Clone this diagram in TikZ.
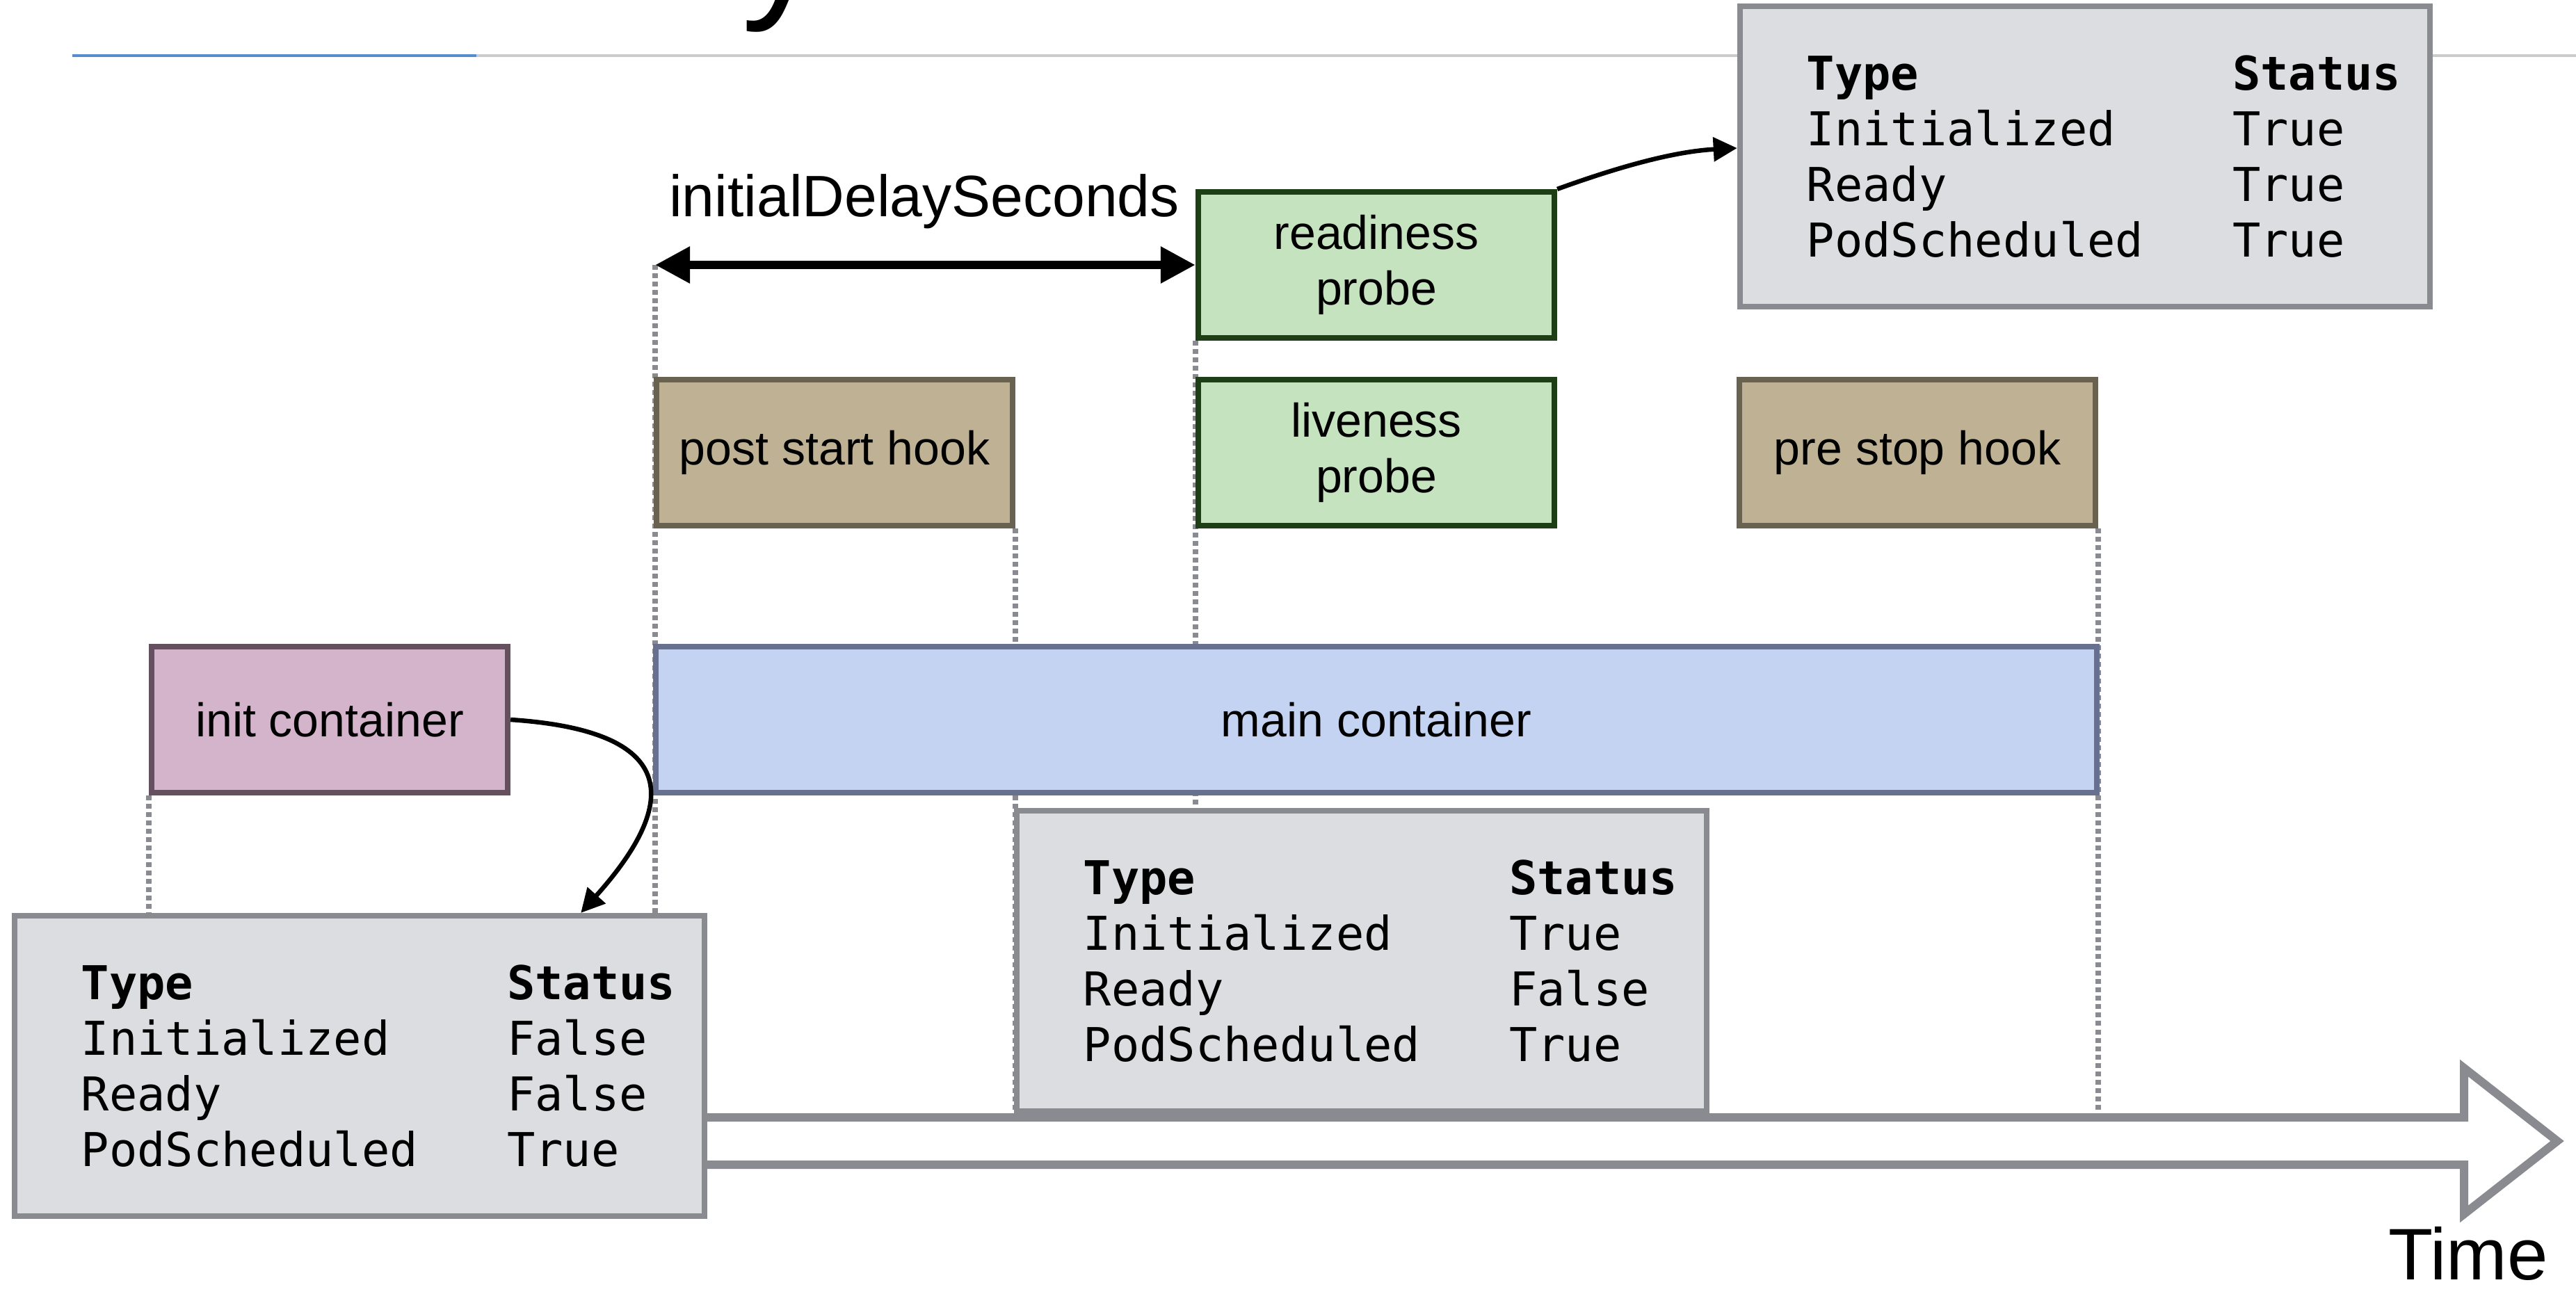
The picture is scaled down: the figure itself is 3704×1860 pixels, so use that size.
\documentclass[tikz,border=0pt]{standalone}
\usepackage{fontspec}
\setmainfont{Liberation Sans}
\newfontfamily\monofont{DejaVu Sans Mono}
\usetikzlibrary{arrows.meta, positioning, backgrounds}

\definecolor{initfill}{RGB}{212,180,203}
\definecolor{initedge}{RGB}{100,80,94}
\definecolor{mainfill}{RGB}{197,211,243}
\definecolor{mainedge}{RGB}{104,112,144}
\definecolor{hookfill}{RGB}{191,177,147}
\definecolor{hookedge}{RGB}{106,98,80}
\definecolor{probefill}{RGB}{198,227,192}
\definecolor{probeedge}{RGB}{30,63,22}
\definecolor{tablefill}{RGB}{220,221,224}
\definecolor{tableedge}{RGB}{138,139,144}
\definecolor{rulegray}{RGB}{200,204,204}
\definecolor{ruleblue}{RGB}{85,140,207}

\newcommand{\statrow}[2]{\makebox[61.2mm][l]{#1}#2}

\begin{document}
\begin{tikzpicture}[x=0.01cm, y=-0.01cm,
    every node/.style={font=\fontsize{6.8mm}{8mm}\selectfont},
    box/.style={rectangle, draw, line width=0.8mm, minimum width=51.2mm, minimum height=21mm, inner sep=0pt, align=center},
    condtable/.style={rectangle, draw=tableedge, fill=tablefill, line width=0.8mm, minimum width=99.2mm, minimum height=43.2mm, inner sep=0pt, text width=80mm, align=left, font=\monofont\fontsize{6.7mm}{8mm}\selectfont},
    guide/.style={draw=tableedge, line width=0.75mm, dash pattern=on 0.7mm off 0.5mm},
    curved/.style={draw, line width=0.65mm, -{Triangle[length=3.4mm, width=3.4mm]}},
    dbl/.style={draw, line width=1.2mm, {Triangle[length=5mm, width=5mm]}-{Triangle[length=5mm, width=5mm]}},
    timeline/.style={draw=tableedge, line width=1.2mm, line join=miter}]
    \useasboundingbox (0,0) rectangle (3704,1860);

    % title, cut off at the top
    \node[font=\fontsize{23.5mm}{28mm}\selectfont, anchor=base west] (title) at (74,-3) {Pod Lifecycle};

    % container and hook boxes
    \node[box, fill=initfill, draw=initedge] (init) at (474,1035) {init container};
    \node[box, fill=mainfill, draw=mainedge, minimum width=207mm] (main) at (1979,1035) {main container};
    \node[box, fill=hookfill, draw=hookedge] (post) at (1200,651) {post start hook};
    \node[box, fill=probefill, draw=probeedge] (live) at (1979,651) {liveness\\probe};
    \node[box, fill=hookfill, draw=hookedge] (prestop) at (2757,651) {pre stop hook};
    \node[box, fill=probefill, draw=probeedge] (ready) at (1979,381) {readiness\\probe};

    % pod conditions
    \node[condtable] (leftTab) at (517,1533) {\textbf{\statrow{Type}{Status}}\\\statrow{Initialized}{False}\\\statrow{Ready}{False}\\\statrow{PodScheduled}{True}};
    \node[condtable] (midTab) at (1958,1382) {\textbf{\statrow{Type}{Status}}\\\statrow{Initialized}{True}\\\statrow{Ready}{False}\\\statrow{PodScheduled}{True}};
    \node[condtable] (topTab) at (2998,225) {\textbf{\statrow{Type}{Status}}\\\statrow{Initialized}{True}\\\statrow{Ready}{True}\\\statrow{PodScheduled}{True}};

    \coordinate (delayL) at (942,381);
    \node[font=\fontsize{8.4mm}{10mm}\selectfont, anchor=base] (delay) at (1329,311) {initialDelaySeconds};
    \draw[dbl] (delayL) -- (ready.west);

    \draw[curved] (init.east) .. controls (960,1050) and (990,1140) .. ([xshift=31.8mm]leftTab.north);
    \draw[curved] (ready.north east) .. controls (2319,243) and (2403,218) .. ([yshift=1.2mm]topTab.west);

    \node[font=\fontsize{10.5mm}{12mm}\selectfont, anchor=base east] (time) at (3676,1840) {Time};

    \begin{scope}[on background layer]
        \draw[line width=0.43mm, draw=rulegray] (685,80) -- (3704,80);
        \draw[line width=0.43mm, draw=ruleblue] (104,80) -- (685,80);
        \draw[guide] (init.south west) -- (init.south west |- leftTab.north);
        \draw[guide] (delayL) -- (delayL |- leftTab.north);
        \draw[guide] (post.south east) -- (post.south east |- midTab.south);
        \draw[guide] (ready.south west) -- (ready.south west |- midTab.north);
        \draw[guide] (prestop.south east) -- (prestop.south east |- midTab.south);
        \draw[timeline] (1000,1607) -- (3543,1607) -- (3543,1536) -- (3677,1641) -- (3543,1746) -- (3543,1675) -- (1000,1675);
    \end{scope}
\end{tikzpicture}
\end{document}
